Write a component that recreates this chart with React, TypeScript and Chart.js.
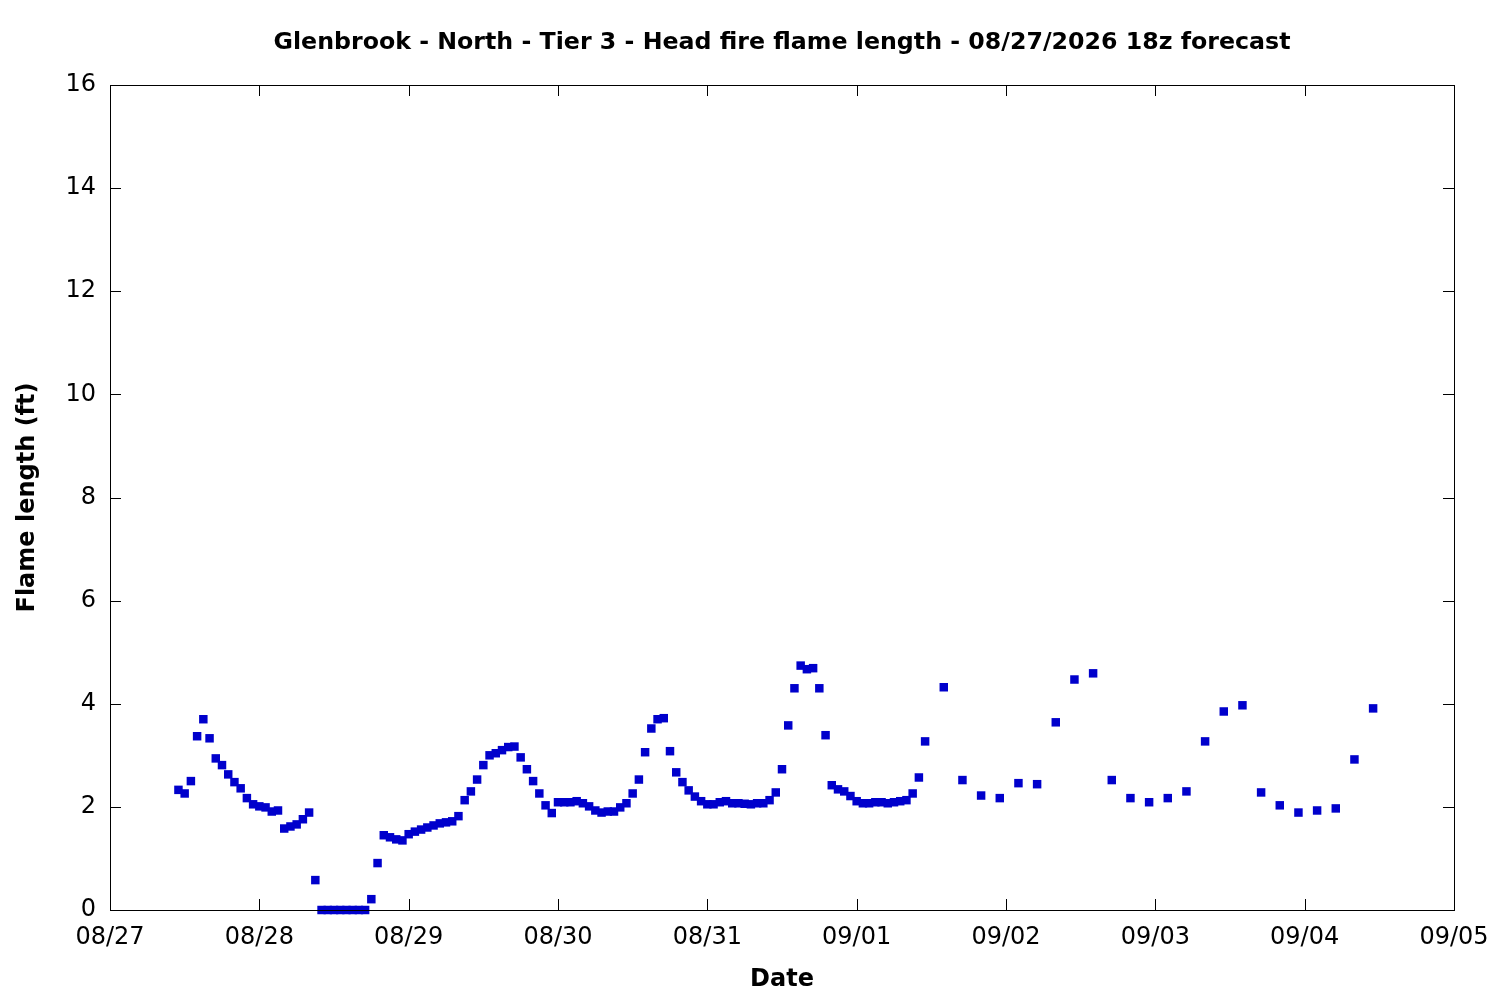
import { useEffect, useRef } from "react";
import { Chart, registerables } from "chart.js";
import type { ChartConfiguration, Plugin } from "chart.js";

Chart.register(...registerables);

// ============================================================================
// DATA
// ============================================================================
const TITLE =
  "Glenbrook - North - Tier 3 - Head fire flame length - 08/27/2026 18z forecast";

const DATE_LABELS = [
  "08/27",
  "08/28",
  "08/29",
  "08/30",
  "08/31",
  "09/01",
  "09/02",
  "09/03",
  "09/04",
  "09/05",
];

const Y_TICKS = [0, 2, 4, 6, 8, 10, 12, 14, 16];

// hourly part of the forecast, hours counted from 08/27 00:00
const HOURLY_START = 11;
const HOURLY_VALUES = [
  2.33, 2.26, 2.5, 3.37, 3.7, 3.33, 2.94, 2.81, 2.63, 2.48, 2.36, 2.17, 2.05,
  2.01, 1.99, 1.91, 1.93, 1.58, 1.62, 1.66, 1.76, 1.89, 0.58, 0, 0, 0, 0, 0, 0,
  0, 0, 0.21, 0.91, 1.45, 1.41, 1.37, 1.35, 1.47, 1.52, 1.56, 1.6, 1.64, 1.68,
  1.7, 1.72, 1.82, 2.13, 2.3, 2.53, 2.81, 3.0, 3.04, 3.1, 3.16, 3.17, 2.96,
  2.73, 2.5, 2.26, 2.03, 1.88, 2.09, 2.09, 2.09, 2.11, 2.07, 2.01, 1.93, 1.89,
  1.91, 1.91, 1.99, 2.07, 2.26, 2.53, 3.06, 3.52, 3.7, 3.72, 3.08, 2.67, 2.48,
  2.32, 2.2, 2.11, 2.05, 2.05, 2.09, 2.11, 2.07, 2.07, 2.06, 2.05, 2.07, 2.07,
  2.13, 2.28, 2.73, 3.58, 4.3, 4.74, 4.67, 4.69, 4.3, 3.39, 2.42, 2.34, 2.3,
  2.21, 2.11, 2.07, 2.07, 2.09, 2.09, 2.07, 2.09, 2.11, 2.13, 2.26, 2.57, 3.27,
];

// 3-hourly part
const THREE_HOURLY_START = 134;
const THREE_HOURLY_VALUES = [
  4.32, 2.52, 2.22, 2.17, 2.46, 2.44, 3.64, 4.47, 4.59, 2.52, 2.17, 2.09, 2.17,
  2.3, 3.27, 3.85, 3.97, 2.28, 2.03, 1.89, 1.93, 1.97, 2.92, 3.91,
];

// ============================================================================
// HELPERS
// ============================================================================
const FONT = "'DejaVu Sans', 'Liberation Sans', sans-serif";

const buildPoints = () => [
  ...HOURLY_VALUES.map((y, i) => ({ x: HOURLY_START + i, y })),
  ...THREE_HOURLY_VALUES.map((y, i) => ({ x: THREE_HOURLY_START + i * 3, y })),
];

// frame, inward ticks on all four sides and the title
const framePlugin: Plugin<"scatter"> = {
  id: "frame",
  afterDraw(chart) {
    const { ctx, chartArea: a, scales } = chart;
    const tick = 11;
    ctx.save();
    ctx.strokeStyle = "#000";
    ctx.lineWidth = 1;
    ctx.beginPath();
    scales.x.ticks.forEach((t) => {
      const px = Math.round(scales.x.getPixelForValue(t.value)) + 0.5;
      ctx.moveTo(px, a.bottom);
      ctx.lineTo(px, a.bottom - tick);
      ctx.moveTo(px, a.top);
      ctx.lineTo(px, a.top + tick);
    });
    scales.y.ticks.forEach((t) => {
      const py = Math.round(scales.y.getPixelForValue(t.value)) + 0.5;
      ctx.moveTo(a.left, py);
      ctx.lineTo(a.left + tick, py);
      ctx.moveTo(a.right, py);
      ctx.lineTo(a.right - tick, py);
    });
    ctx.stroke();
    ctx.strokeRect(
      Math.round(a.left) + 0.5,
      Math.round(a.top) + 0.5,
      Math.round(a.right - a.left),
      Math.round(a.bottom - a.top)
    );
    ctx.fillStyle = "#000";
    ctx.font = `bold 23.7px ${FONT}`;
    ctx.textAlign = "center";
    ctx.textBaseline = "middle";
    ctx.fillText(TITLE, (a.left + a.right) / 2, 43);
    ctx.restore();
  },
};

const createChartConfig = (): ChartConfiguration<"scatter"> => ({
  type: "scatter",
  data: {
    datasets: [
      {
        label: "Flame length",
        data: buildPoints(),
        pointStyle: "rect",
        pointRadius: 6,
        pointBorderWidth: 0,
        backgroundColor: "#0000cc",
        borderColor: "#0000cc",
        showLine: false,
        clip: false,
      },
    ],
  },
  options: {
    animation: false,
    responsive: true,
    maintainAspectRatio: false,
    layout: { padding: { top: 85, right: 46, left: 0, bottom: 0 } },
    plugins: {
      legend: { display: false },
      title: { display: false },
      tooltip: { enabled: false },
    },
    scales: {
      x: {
        type: "linear",
        min: 0,
        max: 216,
        afterFit: (scale) => {
          scale.height = 90;
          scale.paddingRight = 0;
        },
        grid: { display: false, drawTicks: false, tickLength: 0 },
        border: { display: false },
        ticks: {
          stepSize: 24,
          autoSkip: false,
          maxRotation: 0,
          padding: 13,
          color: "#000",
          font: { family: FONT, size: 24 },
          callback: (value) => DATE_LABELS[Math.round(Number(value) / 24)] ?? "",
        },
        title: {
          display: true,
          text: "Date",
          color: "#000",
          font: { family: FONT, size: 24, weight: "bold" },
          padding: { top: 0, bottom: 6 },
        },
      },
      y: {
        min: 0,
        max: 16,
        afterFit: (scale) => {
          scale.width = 110;
        },
        afterBuildTicks: (scale) => {
          scale.ticks = Y_TICKS.map((value) => ({ value }));
        },
        grid: { display: false, drawTicks: false, tickLength: 0 },
        border: { display: false },
        ticks: {
          padding: 14,
          color: "#000",
          font: { family: FONT, size: 24 },
        },
        title: {
          display: true,
          text: "Flame length (ft)",
          color: "#000",
          font: { family: FONT, size: 24, weight: "bold" },
          padding: { top: 13, bottom: 0 },
        },
      },
    },
  },
  plugins: [framePlugin],
});

// ============================================================================
// MAIN COMPONENT
// ============================================================================
export default function App() {
  const chartRef = useRef<HTMLCanvasElement>(null);
  const chartInstance = useRef<Chart<"scatter"> | null>(null);

  useEffect(() => {
    document.body.style.margin = "0";
    if (chartRef.current) {
      if (chartInstance.current) {
        chartInstance.current.destroy();
      }
      const ctx = chartRef.current.getContext("2d");
      if (ctx) {
        chartInstance.current = new Chart(ctx, createChartConfig());
      }
    }
    return () => {
      if (chartInstance.current) {
        chartInstance.current.destroy();
        chartInstance.current = null;
      }
    };
  }, []);

  return (
    <div style={{ width: "1500px", height: "1000px", background: "#fff" }}>
      <canvas ref={chartRef} aria-label="Head fire flame length forecast"></canvas>
    </div>
  );
}
